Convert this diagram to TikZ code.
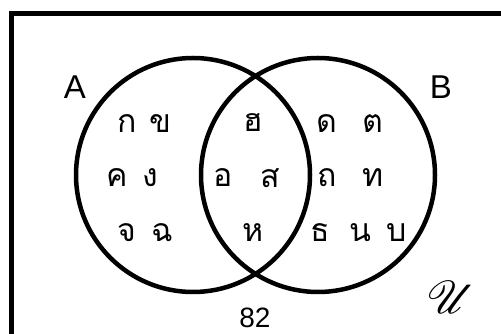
\documentclass[tikz,border=0pt]{standalone}
\usepackage{fontspec}
\usepackage{mathrsfs}
\newfontfamily\thaifont[Script=Thai]{Loma}
\newfontfamily\latinfont{Liberation Sans}
\begin{document}
\begin{tikzpicture}[x=1pt,y=1pt,
  setcircle/.style={circle, draw, line width=4.5pt, minimum size=234pt, inner sep=0pt},
  thai/.style={font=\thaifont\fontsize{32}{32}\selectfont, inner sep=0pt},
  lat/.style={font=\latinfont\fontsize{33}{33}\selectfont, inner sep=0pt}]
\useasboundingbox (0,0) rectangle (501,334);
\clip (0,0) rectangle (501,334);
\draw[line width=5pt] (11.5,-2.5) rectangle (510,320.5);
\node[setcircle] (cA) at (193,159) {};
\node[setcircle] (cB) at (318,159) {};
\node[lat] (lA) at (75,247) {A};
\node[lat] (lB) at (441,247) {B};
% A only
\node[thai] (t1) at (127,210) {ก};
\node[thai] (t2) at (160,210) {ข};
\node[thai] (t3) at (117,156) {ค};
\node[thai] (t4) at (150,156) {ง};
\node[thai] (t5) at (127,101) {จ};
\node[thai] (t6) at (162,101) {ฉ};
% both
\node[thai] (t7) at (253,212) {ฮ};
\node[thai] (t8) at (223,156) {อ};
\node[thai] (t9) at (270,156) {ส};
\node[thai] (t10) at (253,101) {ห};
% B only
\node[thai] (t11) at (327,210) {ด};
\node[thai] (t12) at (373,210) {ต};
\node[thai] (t13) at (327,156) {ถ};
\node[thai] (t14) at (373,156) {ท};
\node[thai] (t15) at (320,101) {ธ};
\node[thai] (t16) at (360,101) {น};
\node[thai] (t17) at (397,101) {บ};
\node[font=\latinfont\fontsize{28}{28}\selectfont, inner sep=0pt] (n82) at (255,16) {82};
\node[inner sep=0pt] (U) at (451,37) {\scalebox{4.6}{$\mathscr{U}$}};
\end{tikzpicture}
\end{document}
